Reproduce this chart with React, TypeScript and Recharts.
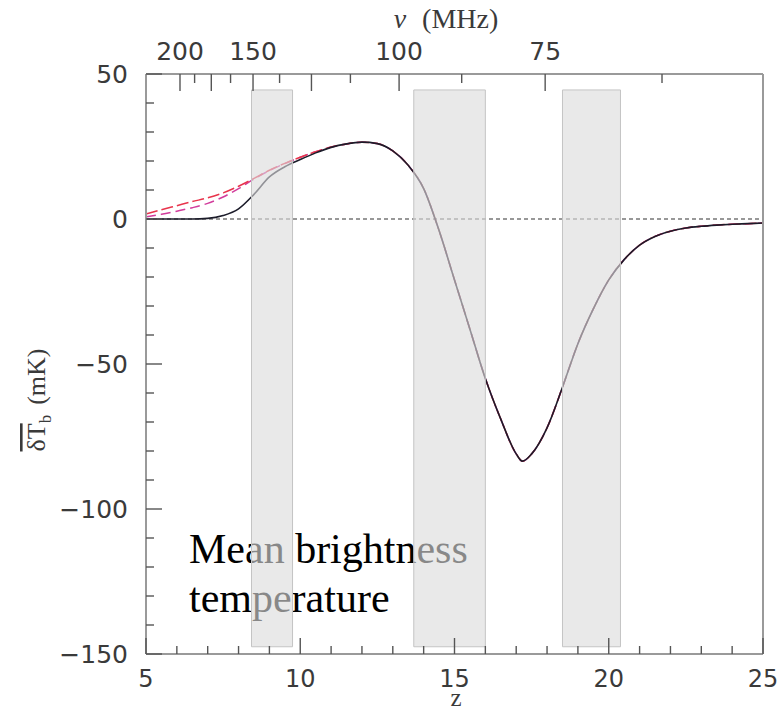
import React from 'react';
import {
  LineChart, Line, XAxis, YAxis, ReferenceArea, ReferenceLine, Customized,
} from 'recharts';

// ─── Data ────────────────────────────────────────────────────────────────────

// redshift samples
const Z = [
  5, 5.5, 6, 6.5, 7, 7.5, 8, 8.5, 9, 9.5,
  10, 10.5, 11, 11.5, 12, 12.5, 13, 13.5, 14, 14.5,
  15, 15.5, 16, 16.5, 17, 17.2, 17.5, 18, 18.5, 19,
  19.5, 20, 20.5, 21, 21.5, 22, 22.5, 23, 23.5, 24,
  24.5, 25,
];

// mean brightness temperature (mK), solid dark curve
const T_BLACK = [
  0, 0, 0, 0, 0.2, 1.2, 3.5, 8.5, 14.5, 18,
  20.5, 22.8, 24.7, 25.9, 26.5, 26, 23.5, 18.5, 10.5, -4,
  -21, -38, -55, -69, -81, -83.5, -81, -72, -58, -43,
  -31, -21, -14, -9, -6, -4.2, -3.1, -2.5, -2.1, -1.8,
  -1.6, -1.4,
];

// red dashed curve
const T_RED = [
  1.7, 3.2, 4.6, 6, 7.3, 9, 11.3, 14, 16.8, 19.2,
  21.3, 23.2, 24.8, 25.9, 26.5, 26, 23.5, 18.5, 10.5, -4,
  -21, -38, -55, -69, -81, -83.5, -81, -72, -58, -43,
  -31, -21, -14, -9, -6, -4.2, -3.1, -2.5, -2.1, -1.8,
  -1.6, -1.4,
];

// magenta dashed curve
const T_MAG = [
  0.7, 1.6, 2.7, 3.9, 5.4, 7.6, 10.5, 13.8, 16.7, 19.1,
  21.3, 23.2, 24.8, 25.9, 26.5, 26, 23.5, 18.5, 10.5, -4,
  -21, -38, -55, -69, -81, -83.5, -81, -72, -58, -43,
  -31, -21, -14, -9, -6, -4.2, -3.1, -2.5, -2.1, -1.8,
  -1.6, -1.4,
];

// shaded observing windows (z ranges) and their vertical extent (mK)
const BAND_START = [8.42, 13.68, 18.5];
const BAND_END = [9.75, 16.0, 20.38];
const BAND_Y = [-147.5, 44.5];

// axis ticks
const Z_TICKS = [5, 6, 7, 8, 9, 10, 11, 12, 13, 14, 15, 16, 17, 18, 19, 20, 21, 22, 23, 24, 25];
const T_TICKS = [-150, -140, -130, -120, -110, -100, -90, -80, -70, -60, -50, -40, -30, -20, -10, 0, 10, 20, 30, 40, 50];
const NU_TICKS = [200, 187.5, 175, 162.5, 150, 137.5, 125, 112.5, 100, 87.5, 75, 62.5];
const NU_LABELS = [200, 150, 100, 75];
const NU_21CM = 1420.4;

const data = Z.map((z, i) => ({ z, black: T_BLACK[i], red: T_RED[i], mag: T_MAG[i] }));
const topTicks = NU_TICKS.map(nu => NU_21CM / nu - 1);

// ─── Style ───────────────────────────────────────────────────────────────────

const C = {
  frame: '#9a9a9a',
  tick: '#555',
  label: '#3a3a3a',
  black: '#1c1c2a',
  red: '#e8344c',
  mag: '#d23c9c',
  band: '#dbdbdb',
  bandEdge: '#c4c4c4',
};
const NUM_FONT = '"DejaVu Sans", sans-serif';
const SERIF = '"Liberation Serif", "DejaVu Serif", serif';
const fmtNum = (v: number) => (v < 0 ? `\u2212${Math.abs(v)}` : `${v}`);

// ─── Tick renderers (ticks point into the frame) ─────────────────────────────

const BottomTick = ({ x, y, payload }: any) => {
  const v = payload.value;
  const major = v % 5 === 0;
  return (
    <g>
      <line x1={x} x2={x} y1={y} y2={y - (major ? 16 : 8)} stroke={C.tick} strokeWidth={1.4} />
      {major && (
        <text x={x} y={y + 33} textAnchor="middle" fontFamily={NUM_FONT} fontSize={24} fill={C.label}>{v}</text>
      )}
    </g>
  );
};

const TopTick = ({ x, y, payload }: any) => {
  const nu = Math.round((NU_21CM / (payload.value + 1)) * 10) / 10;
  const major = nu % 25 === 0;
  return (
    <g>
      <line x1={x} x2={x} y1={y} y2={y + (major ? 17 : 9)} stroke={C.tick} strokeWidth={1.4} />
      {NU_LABELS.includes(nu) && (
        <text x={x} y={y - 14} textAnchor="middle" fontFamily={NUM_FONT} fontSize={25} fill={C.label}>{nu}</text>
      )}
    </g>
  );
};

const LeftTick = ({ x, y, payload }: any) => {
  const v = payload.value;
  const major = v % 50 === 0;
  return (
    <g>
      <line x1={x} x2={x + (major ? 16 : 8)} y1={y} y2={y} stroke={C.tick} strokeWidth={1.4} />
      {major && (
        <text x={x - 18} y={y} dy="0.36em" textAnchor="end" fontFamily={NUM_FONT} fontSize={25} fill={C.label}>{fmtNum(v)}</text>
      )}
    </g>
  );
};

const RightTick = ({ x, y, payload }: any) => {
  const major = payload.value % 50 === 0;
  return <line x1={x} x2={x - (major ? 16 : 8)} y1={y} y2={y} stroke={C.tick} strokeWidth={1.4} />;
};

// ─── Titles and annotation ───────────────────────────────────────────────────

const Titles = () => (
  <g>
    <text x={446} y={28} textAnchor="middle" fontFamily={SERIF} fontSize={28} fill={C.label}>
      <tspan fontStyle="italic">ν</tspan>
      <tspan dx={16}>(MHz)</tspan>
    </text>
    <text x={456} y={706} textAnchor="middle" fontFamily={SERIF} fontSize={25} fill={C.label}>z</text>
    <text x={45} y={400} transform="rotate(-90 45 400)" textAnchor="middle" fontFamily={SERIF} fontSize={26} fill={C.label}>
      <tspan style={{ textDecoration: 'overline' }}>δT</tspan>
      <tspan dy={6} fontSize={17}>b</tspan>
      <tspan dy={-6} dx={10}>(mK)</tspan>
    </text>
    <text x={189} y={563} fontFamily={SERIF} fontSize={42} fill="#000">Mean brightness</text>
    <text x={189} y={612} fontFamily={SERIF} fontSize={42} fill="#000">temperature</text>
  </g>
);

// ─── Chart ───────────────────────────────────────────────────────────────────

export default function App() {
  return (
    <div style={{ position: 'absolute', left: 0, top: 0, width: 781, height: 713, background: '#fff' }}>
      <LineChart width={781} height={713} data={data} margin={{ top: 0, right: 0, bottom: 0, left: 0 }}>
        <Customized component={Titles} />

        <XAxis
          xAxisId="b" dataKey="z" type="number" domain={[5, 25]} ticks={Z_TICKS} interval={0}
          orientation="bottom" height={59} tickSize={0} tickMargin={0} tickLine={false}
          axisLine={{ stroke: C.frame, strokeWidth: 2 }} tick={<BottomTick />}
        />
        <XAxis
          xAxisId="t" dataKey="z" type="number" domain={[5, 25]} ticks={topTicks} interval={0}
          orientation="top" height={74} tickSize={0} tickMargin={0} tickLine={false}
          axisLine={{ stroke: C.frame, strokeWidth: 2 }} tick={<TopTick />}
        />
        <YAxis
          yAxisId="l" type="number" domain={[-150, 50]} ticks={T_TICKS} interval={0}
          orientation="left" width={146} tickSize={0} tickMargin={0} tickLine={false}
          axisLine={{ stroke: C.frame, strokeWidth: 2 }} tick={<LeftTick />}
        />
        <YAxis
          yAxisId="r" type="number" domain={[-150, 50]} ticks={T_TICKS} interval={0}
          orientation="right" width={18} tickSize={0} tickMargin={0} tickLine={false}
          axisLine={{ stroke: C.frame, strokeWidth: 2 }} tick={<RightTick />}
        />

        <ReferenceLine xAxisId="b" yAxisId="l" y={0} stroke="#333" strokeWidth={1.2} strokeDasharray="4 3" />

        <Line xAxisId="b" yAxisId="l" type="monotone" dataKey="mag" stroke={C.mag} strokeWidth={1.5}
          strokeDasharray="10 5" dot={false} isAnimationActive={false} />
        <Line xAxisId="b" yAxisId="l" type="monotone" dataKey="red" stroke={C.red} strokeWidth={1.5}
          strokeDasharray="12 4" dot={false} isAnimationActive={false} />
        <Line xAxisId="b" yAxisId="l" type="monotone" dataKey="black" stroke={C.black} strokeWidth={1.6}
          dot={false} isAnimationActive={false} />

        {BAND_START.map((z0, i) => (
          <ReferenceArea
            key={i} xAxisId="b" yAxisId="l" x1={z0} x2={BAND_END[i]} y1={BAND_Y[0]} y2={BAND_Y[1]}
            fill={C.band} fillOpacity={0.62} stroke={C.bandEdge} strokeWidth={1}
            {...({ zIndex: 1500 } as any)}
          />
        ))}
      </LineChart>
    </div>
  );
}
